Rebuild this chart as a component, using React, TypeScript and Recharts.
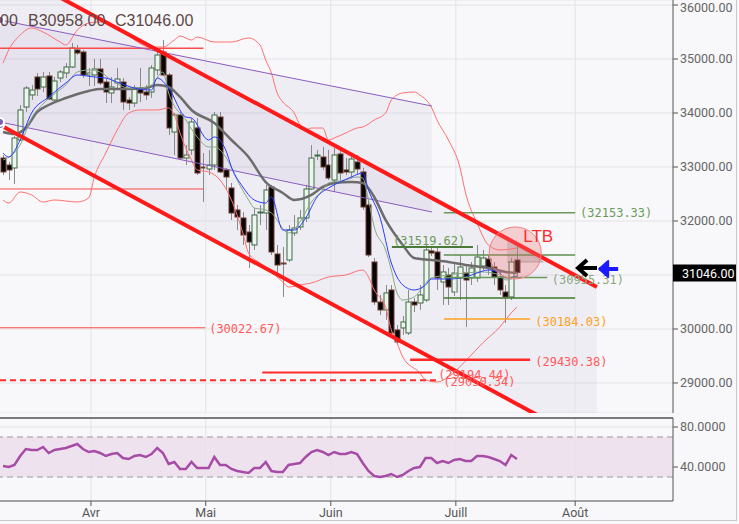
import React from 'react';
import {
  ComposedChart, Line, Bar, Area, XAxis, YAxis, CartesianGrid,
  ReferenceLine, ReferenceArea, ReferenceDot,
} from 'recharts';

// ---------- data ----------
const opens = [33167,33037,32982,33500,34111,34334,34667,34482,34686,34241,34648,34741,34852,35167,35130,34704,34704,34815,34574,34371,34556,34574,34241,34185,34463,34389,34389,34797,35130,34704,33648,33963,33167,33315,33723,33000,32963,33037,33926,32945,32611,32204,32056,31796,31556,32148,32148,32630,31389,31222,31278,31778,31889,32056,32593,33204,33185,33037,32759,33241,32945,32908,33093,32908,32297,31241,30500,30352,30722,29982,30019,29926,30500,30481,30537,31445,31426,30870,31000,30685,30945,31037,30945,30945,31167,31296,31148,30963,30685,30593,31278];
const highs = [33222,33093,33574,34148,34500,34519,34741,34760,34760,34667,34797,34926,35297,35260,35167,34834,35000,35000,34648,34667,34834,34648,34297,34519,34834,34519,34889,35167,35352,34741,34000,34019,33408,33908,33908,33259,33315,34019,34019,32982,32704,32297,32167,31926,32241,32297,32667,32667,31556,31519,31926,32111,32204,32667,33408,33315,33371,33315,33352,33352,33167,33222,33222,32982,32389,31315,30630,30815,30815,30074,30241,30722,30574,30815,31556,31500,31500,31185,31130,31241,31370,31185,31241,31556,31463,31370,31241,31093,30815,31315,31556];
const lows = [32852,32759,32685,33482,34019,34241,34315,34389,34241,34222,34574,34648,34834,35074,34648,34500,34500,34519,34185,34185,34426,34056,34056,34111,34204,34241,34278,34704,34686,33593,33222,33130,33037,33222,32852,32352,32852,32945,32889,32574,32019,31833,31556,31130,31463,31926,31833,31370,31000,30593,31241,31722,31833,31982,32574,33130,32945,32759,32537,32759,32852,32796,32852,32204,31333,30445,30259,30167,29889,29704,29889,29889,30315,30352,30500,31352,30722,30445,30445,30611,30537,30037,30815,30870,31093,31000,30815,30630,30111,30537,30958];
const closes = [32908,32945,33537,34056,34463,34426,34445,34667,34260,34593,34760,34852,35204,35111,34704,34741,34815,34556,34389,34482,34630,34204,34185,34463,34371,34334,34834,35074,34704,33723,33963,33167,33222,33834,32889,32982,33037,33963,32908,32815,32148,32074,31741,31611,32111,32167,32574,31426,31185,31204,31833,31870,32056,32593,33167,33222,33000,32796,33222,32889,32908,33148,32963,32259,31370,30500,30352,30667,29926,29759,30130,30500,30445,30630,31463,31407,30945,31056,30778,31037,31148,30907,31130,31333,31315,31130,30963,30722,30593,31241,31046];
const rsi14 = [41,40,42,51,58,57,57,60,54,57,58,59,61,63,58,55,56,54,51,53,54,49,48,51,52,50,53,59,54,43,45,38,38,45,39,39,39,50,42,42,38,36,35,34,39,39,45,36,35,35,42,43,44,50,55,57,55,52,55,53,53,55,53,44,36,31,30,31,33,30,32,36,39,40,49,49,44,46,44,47,48,46,46,51,51,50,48,46,42,52,48];

// moving averages & Bollinger bands, [candle index, price]
const maGray: [number, number][] = [[0,33648],[2,33611],[4,33722],[6,34019],[8,34148],[11,34278],[15,34408],[17,34445],[22,34445],[25,34463],[27,34519],[29,34482],[31,34297],[33,34056],[37,33815],[40,33500],[43,33185],[46,32722],[49,32519],[51,32389],[54,32482],[56,32630],[58,32704],[61,32722],[63,32704],[65,32445],[67,32019],[70,31556],[72,31315],[75,31278],[78,31241],[81,31185],[85,31130],[88,31056],[90,31037]];
const maBlue: [number, number][] = [[0,33259],[1,33185],[3,33500],[5,34000],[8,34297],[11,34556],[13,34704],[16,34667],[18,34648],[20,34574],[23,34463],[26,34426],[27,34648],[29,34463],[32,33926],[33,33908],[36,33500],[37,33556],[39,33315],[40,33000],[42,32630],[44,32389],[46,32333],[47,32445],[49,31833],[51,31833],[53,32056],[55,32445],[57,32611],[59,32722],[61,32815],[63,32889],[64,32574],[66,32074],[68,31222],[70,30815],[72,30722],[74,30815],[75,30926],[78,30926],[81,30963],[83,31037],[85,31093],[87,31037],[88,30945],[90,30982]];
const maGreen: [number, number][] = [[0,33130],[3,33408],[5,33908],[7,34167],[9,34352],[11,34519],[13,34760],[15,34797],[17,34760],[19,34611],[22,34463],[24,34463],[26,34519],[28,34760],[29,34371],[32,33871],[34,33556],[36,33371],[37,33371],[39,33185],[41,32759],[43,32389],[44,32241],[46,32204],[47,32148],[50,31778],[52,31982],[54,32352],[56,32574],[57,32704],[60,32759],[62,32815],[63,32796],[64,32389],[65,31889],[67,31463],[68,31093],[69,30667],[70,30537],[72,30593],[74,30852],[75,30945],[78,31000],[81,31037],[84,31056],[87,31000],[88,30907],[90,30963]];
const bbUpper: [number, number][] = [[0,34926],[1,35167],[3,35445],[5,35574],[7,35500],[10,35315],[11,35260],[13,35537],[15,35667],[17,35686],[19,35630],[21,35537],[23,35352],[26,35222],[28,35222],[30,35352],[31,35426],[33,35352],[34,35408],[37,35315],[40,35315],[43,35389],[45,35260],[46,34982],[47,34741],[48,34371],[49,34204],[51,34000],[52,33778],[53,33685],[54,33722],[56,33722],[57,33500],[58,33537],[60,33630],[62,33722],[63,33741],[65,33870],[67,34000],[68,34241],[70,34371],[72,34389],[73,34334],[75,34111],[76,33870],[78,33500],[80,33000],[81,32519],[83,31963],[85,31556],[87,31463],[90,31500]];
const bbLower: [number, number][] = [[0,32389],[1,32333],[3,32537],[5,32482],[7,32352],[9,32389],[13,32352],[15,32426],[16,32815],[18,33259],[20,33685],[22,34000],[24,34056],[27,34056],[29,34093],[30,33963],[31,33630],[33,33130],[34,32945],[36,32908],[38,32759],[40,32389],[42,31778],[43,31408],[45,31222],[47,31056],[49,30870],[50,30778],[52,30815],[54,30852],[57,30963],[60,31000],[63,31093],[64,30963],[65,30722],[67,30408],[68,29982],[69,29741],[70,29482],[73,29186],[74,29056],[76,29019],[78,29111],[81,29408],[84,29741],[87,30037],[89,30297],[90,30408]];

// trend channels: [index, price] end points
const channelUpper: [number, number][] = [[-0.53, 36739], [104.0, 30778]];
const channelLower: [number, number][] = [[-0.53, 33778], [104.0, 27811]];
const regUpper: [number, number][] = [[-0.53, 35723], [75.1, 34130]];
const regLower: [number, number][] = [[-0.53, 33834], [75.1, 32167]];

// horizontal levels
const levels = [32153.33, 31370, 30955.31, 30574, 31519.62, 30184.03, 29430.38, 29194.44, 29050.34, 30022.67, 35198, 32593];

const monthPos = [15.4, 35.5, 57.4, 79.3, 100.2];
const monthLabels = ['Avr', 'Mai', 'Juin', 'Juill', 'Août'];
const priceTicks = [29000, 30000, 31000, 32000, 33000, 34000, 35000, 36000];
const rsiTicks = [40, 80];

const X_MIN = -0.53;
const X_MAX = 117.33;
const Y_MIN = 28444;
const Y_MAX = 36093;

// ---------- derived tables ----------
const candles = opens.map((o, i) => ({ i, o, h: highs[i], l: lows[i], c: closes[i], range: [lows[i], highs[i]] }));
const rsiData = rsi14.map((v, i) => ({ i, v }));
const toPts = (arr: [number, number][]) => arr.map(([i, v]) => ({ i, v }));
const band = (a: [number, number][], b: [number, number][]) => a.map(([i, hi], k) => ({ i, r: [b[k][1], hi] }));
const lastClose = closes[closes.length - 1];

const MONO = "'DejaVu Sans Mono', monospace";
const SANS = "Roboto, 'Liberation Sans', sans-serif";
const BODY_W = 5;

const Candle = (props: any) => {
  const { x, y, width, height, payload } = props;
  if (x == null || !payload) return null;
  const { o, c, h, l } = payload;
  const top = Math.min(y, y + height);
  const hgt = Math.abs(height);
  const k = h === l ? 0 : hgt / (h - l);
  const yO = top + (h - o) * k;
  const yC = top + (h - c) * k;
  const cx = Math.round(x + width / 2) + 0.5;
  const bull = c >= o;
  const bt = Math.min(yO, yC);
  const bh = Math.max(1, Math.abs(yO - yC));
  return (
    <g>
      <line x1={cx} x2={cx} y1={top} y2={top + hgt} stroke="#8a8a8a" strokeWidth={1} />
      <rect x={cx - BODY_W / 2} y={bt} width={BODY_W} height={bh} fill={bull ? '#eef4ee' : '#050505'} stroke={bull ? '#3b6b43' : '#6e3b30'} strokeWidth={1} />
    </g>
  );
};

const mkText = (txt: string, color: string, size = 12, family = MONO) => (p: any) => (
  <text x={p.cx} y={p.cy} fill={color} fontSize={size} fontFamily={family} dominantBaseline="central">{txt}</text>
);

const Arrow = (color: string, filled: boolean) => (p: any) => {
  const { cx, cy } = p;
  return (
    <g>
      <path d={`M${cx},${cy} L${cx + 19},${cy}`} stroke={color} strokeWidth={4} />
      {filled ? (
        <path d={`M${cx},${cy} L${cx + 9},${cy - 8} L${cx + 9},${cy + 8} Z`} fill={color} stroke={color} strokeWidth={2} strokeLinejoin="round" />
      ) : (
        <path d={`M${cx + 9},${cy - 8} L${cx},${cy} L${cx + 9},${cy + 8}`} fill="none" stroke={color} strokeWidth={4} />
      )}
    </g>
  );
};

const PriceBox = (p: any) => (
  <g>
    <rect x={p.cx} y={p.cy - 8} width={64} height={17} fill="#000" />
    <text x={p.cx + 9} y={p.cy + 1} fill="#fff" fontSize={12.5} fontFamily={SANS} dominantBaseline="central">{lastClose.toFixed(2)}</text>
  </g>
);

const seg = (x0: number, x1: number, p: number) => [{ x: x0, y: p }, { x: x1, y: p }];

export default function App() {
  return (
    <div style={{ position: 'absolute', left: 0, top: 0, width: 739, height: 524, background: '#f8f8fa', overflow: 'hidden' }}>
      <div style={{ position: 'absolute', left: 0, top: 0 }}>
        <ComposedChart width={739} height={413} data={candles} margin={{ top: 0, right: 0, bottom: 0, left: 0 }}>
          <XAxis type="number" dataKey="i" domain={[X_MIN, X_MAX]} hide allowDataOverflow />
          <YAxis
            orientation="right" width={66} domain={[Y_MIN, Y_MAX]} ticks={priceTicks} allowDataOverflow
            tickFormatter={(v: number) => (v === 31000 ? '' : v.toFixed(2))}
            tick={{ fill: '#666', fontSize: 12.5, fontFamily: SANS }}
            stroke="#555" tickSize={5}
          />
          <CartesianGrid vertical={false} stroke="#e3e3e8" />
          {monthPos.map((m) => (
            <ReferenceLine key={'v' + m} x={m} stroke="#e3e3e8" />
          ))}

          <Area data={band(channelUpper, channelLower)} dataKey="r" type="linear" stroke="none" fill="#7a5fb0" fillOpacity={0.07} isAnimationActive={false} />
          <Area data={band(regUpper, regLower)} dataKey="r" type="linear" stroke="none" fill="#7a5fb0" fillOpacity={0.07} isAnimationActive={false} />

          <ReferenceLine segment={seg(X_MIN, 35.1, levels[10])} stroke="#ff4a4a" strokeWidth={1.5} ifOverflow="hidden" />
          <ReferenceLine segment={seg(X_MIN, 35.1, levels[11])} stroke="#ff4a4a" strokeWidth={1} ifOverflow="hidden" />
          <ReferenceLine segment={seg(X_MIN, 35.4, levels[9])} stroke="#ff4a4a" strokeWidth={1} ifOverflow="hidden" />

          <Line data={toPts(bbUpper)} dataKey="v" type="monotone" stroke="#ff7070" strokeWidth={1} dot={false} isAnimationActive={false} />
          <Line data={toPts(bbLower)} dataKey="v" type="monotone" stroke="#ff7070" strokeWidth={1} dot={false} isAnimationActive={false} />

          <ReferenceLine segment={[{ x: regUpper[0][0], y: regUpper[0][1] }, { x: regUpper[1][0], y: regUpper[1][1] }]} stroke="#8a5cc0" strokeWidth={1} ifOverflow="hidden" />
          <ReferenceLine segment={[{ x: regLower[0][0], y: regLower[0][1] }, { x: regLower[1][0], y: regLower[1][1] }]} stroke="#8a5cc0" strokeWidth={1} ifOverflow="hidden" />

          <Bar dataKey="range" barSize={5} shape={Candle} isAnimationActive={false} />

          <Line data={toPts(maGray)} dataKey="v" type="monotone" stroke="#6c6c6c" strokeWidth={2.5} dot={false} isAnimationActive={false} />
          <Line data={toPts(maGreen)} dataKey="v" type="monotone" stroke="#86a886" strokeWidth={1} dot={false} isAnimationActive={false} />
          <Line data={toPts(maBlue)} dataKey="v" type="monotone" stroke="#2b3cff" strokeWidth={1} dot={false} isAnimationActive={false} />

          <ReferenceLine segment={seg(77.2, 100.2, levels[0])} stroke="#6a9a5a" strokeWidth={1.5} ifOverflow="hidden" />
          <ReferenceLine segment={seg(77.2, 100.2, levels[1])} stroke="#5d8f4d" strokeWidth={1.5} ifOverflow="hidden" />
          <ReferenceLine segment={seg(77.2, 95.3, levels[2])} stroke="#6a9a5a" strokeWidth={1.5} ifOverflow="hidden" />
          <ReferenceLine segment={seg(77.2, 100.2, levels[3])} stroke="#3d7a2d" strokeWidth={1.5} ifOverflow="hidden" />
          <ReferenceLine segment={seg(68.1, 82.3, levels[4])} stroke="#4a7a3a" strokeWidth={2} ifOverflow="hidden" />
          <ReferenceLine segment={seg(77.2, 92.3, levels[5])} stroke="#ffa020" strokeWidth={1.5} ifOverflow="hidden" />
          <ReferenceLine segment={seg(71.3, 92.3, levels[6])} stroke="#ff2a2a" strokeWidth={2.5} ifOverflow="hidden" />
          <ReferenceLine segment={seg(45.4, 75.1, levels[7])} stroke="#ff2a2a" strokeWidth={2} ifOverflow="hidden" />
          <ReferenceLine segment={seg(X_MIN, 76.5, levels[8])} stroke="#ff2a2a" strokeWidth={2} strokeDasharray="6 4" ifOverflow="hidden" />

          <ReferenceLine segment={[{ x: channelUpper[0][0], y: channelUpper[0][1] }, { x: channelUpper[1][0], y: channelUpper[1][1] }]} stroke="#ff1a1a" strokeWidth={4} ifOverflow="hidden" />
          <ReferenceLine segment={[{ x: channelLower[0][0], y: channelLower[0][1] }, { x: channelLower[1][0], y: channelLower[1][1] }]} stroke="#ff1a1a" strokeWidth={4} ifOverflow="hidden" />

          <Area data={[{ i: 88.3, r: [31241, 31648] }, { i: 94.6, r: [31241, 31241] }]} dataKey="r" type="linear" stroke="#aaa" strokeWidth={1} fill="#999" fillOpacity={0.35} isAnimationActive={false} />
          <ReferenceDot x={89.7} y={31408} r={26} fill="#f07070" fillOpacity={0.3} stroke="#f08080" strokeWidth={1} ifOverflow="visible" />
          <ReferenceDot x={91.1} y={31722} r={1} shape={mkText('LTB', '#ff2a2a', 17, "'Liberation Sans', Arial, sans-serif")} ifOverflow="visible" />

          <ReferenceDot x={36.1} y={30000} r={1} shape={mkText('(30022.67)', '#ff5a5a')} ifOverflow="visible" />
          <ReferenceDot x={101.05} y={32153.33} r={1} shape={mkText('(32153.33)', '#6a9a5a')} ifOverflow="visible" />
          <ReferenceDot x={68.3} y={31630} r={1} shape={mkText('(31519.62)', '#6a9a5a')} ifOverflow="visible" />
          <ReferenceDot x={96.1} y={30907} r={1} shape={mkText('(30955.31)', '#8aa880')} ifOverflow="visible" />
          <ReferenceDot x={93.2} y={30130} r={1} shape={mkText('(30184.03)', '#ffa020')} ifOverflow="visible" />
          <ReferenceDot x={93.2} y={29389} r={1} shape={mkText('(29430.38)', '#ff5a5a')} ifOverflow="visible" />
          <ReferenceDot x={76.2} y={29148} r={1} shape={mkText('(29194.44)', '#ff5a5a')} ifOverflow="visible" />
          <ReferenceDot x={77.1} y={29019} r={1} shape={mkText('(29050.34)', '#ff5a5a')} ifOverflow="visible" />

          <ReferenceDot x={100.7} y={31130} r={1} shape={Arrow('#000', false)} ifOverflow="visible" />
          <ReferenceDot x={104.4} y={31111} r={1} shape={Arrow('#1b1bff', true)} ifOverflow="visible" />
          <ReferenceDot x={X_MAX} y={lastClose} r={1} shape={PriceBox} ifOverflow="visible" />
        </ComposedChart>
      </div>

      <div style={{ position: 'absolute', left: 0, top: 12, fontFamily: "'Liberation Sans', Arial, sans-serif", fontSize: 16, color: '#5e4848', whiteSpace: 'pre', lineHeight: '18px' }}>
        <span style={{ position: 'absolute', left: 0 }}>00</span>
        <span style={{ position: 'absolute', left: 28 }}>B30958.00</span>
        <span style={{ position: 'absolute', left: 115 }}>C31046.00</span>
      </div>

      <div style={{ position: 'absolute', left: 0, top: 414 }}>
        <ComposedChart width={739} height={110} data={rsiData} margin={{ top: 4, right: 0, bottom: 0, left: 0 }}>
          <XAxis
            type="number" dataKey="i" domain={[X_MIN, X_MAX]} ticks={monthPos} allowDataOverflow height={23}
            tickFormatter={(v: number) => monthLabels[monthPos.indexOf(v)] ?? ''}
            tick={{ fill: '#555', fontSize: 12.5, fontFamily: SANS }} stroke="#555" tickSize={5}
          />
          <YAxis
            orientation="right" width={66} domain={[6, 89]} ticks={rsiTicks} allowDataOverflow
            tickFormatter={(v: number) => v.toFixed(4)}
            tick={{ fill: '#666', fontSize: 12.5, fontFamily: SANS }} stroke="#555" tickSize={5}
          />
          <ReferenceArea y1={30} y2={70} fill="#efe2ef" fillOpacity={1} stroke="none" />
          <CartesianGrid vertical={false} stroke="#e3e3e8" />
          {monthPos.map((m) => (
            <ReferenceLine key={'rv' + m} x={m} stroke="#e3e3e8" />
          ))}
          <ReferenceLine y={70} stroke="#999" strokeDasharray="6 4" />
          <ReferenceLine y={30} stroke="#999" strokeDasharray="6 4" />
          <ReferenceLine y={89} stroke="#555" strokeWidth={1.5} ifOverflow="visible" />
          <Line dataKey="v" type="linear" stroke="#a64ca6" strokeWidth={2.5} dot={false} isAnimationActive={false} />
        </ComposedChart>
      </div>

      <div style={{ position: 'absolute', left: 736, top: 0, width: 1, height: 521, background: '#c8c8c8' }} />
      <div style={{ position: 'absolute', left: 0, top: 520, width: 737, height: 1, background: '#c8c8c8' }} />
    </div>
  );
}
